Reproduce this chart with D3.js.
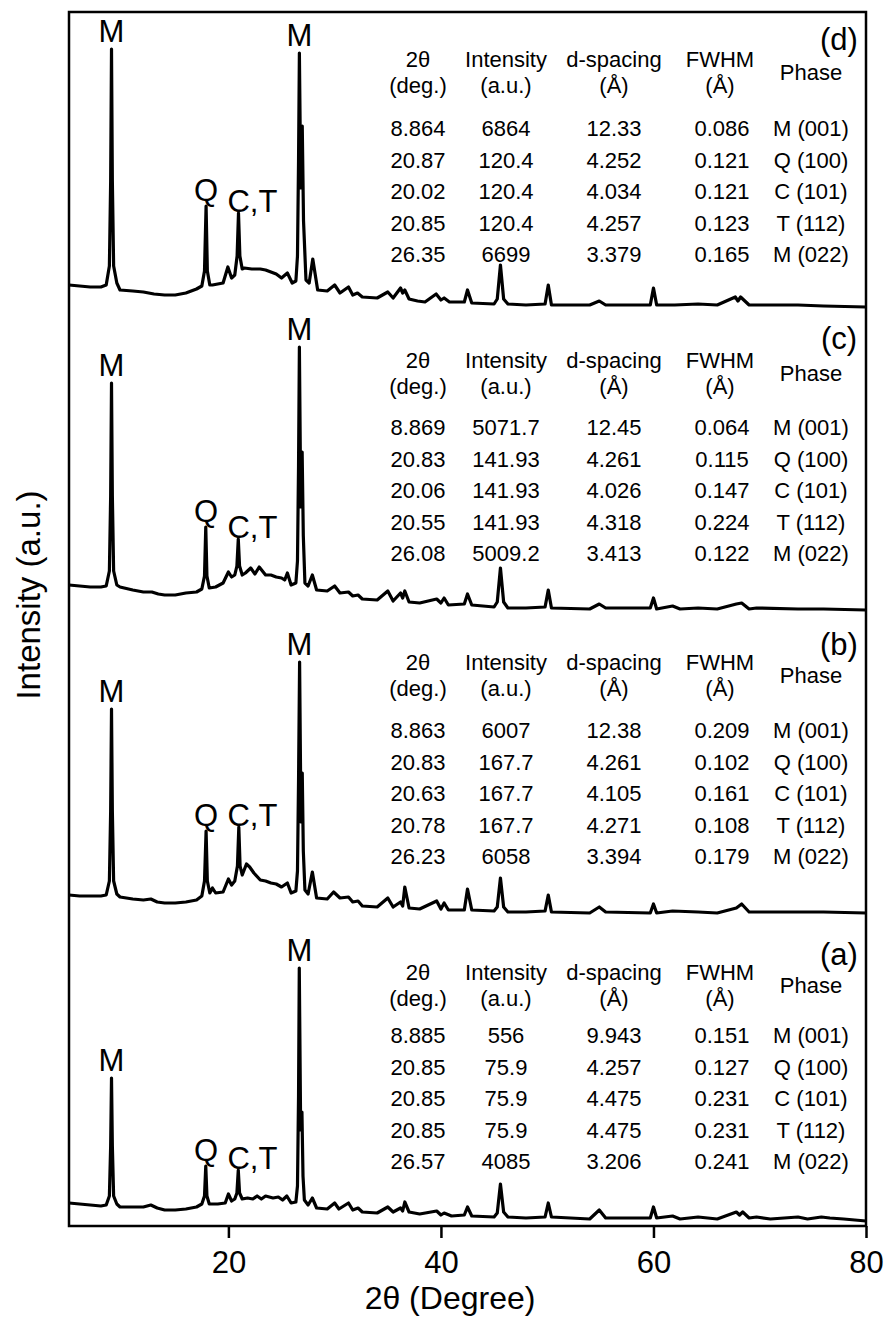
<!DOCTYPE html>
<html><head><meta charset="utf-8">
<script src="https://cdn.jsdelivr.net/npm/d3@7"></script>
<style>
body{margin:0;background:#fff}
svg{display:block}
text{font-family:"Liberation Sans",Arial,Helvetica,sans-serif;fill:#000}
</style>
</head><body>
<svg id="chart" width="885" height="1323"></svg>
<script>
// ---------------- data ----------------
const xTicks = [20, 40, 60, 80];
const panelNames = ["(a)", "(b)", "(c)", "(d)"];
const panelOffsets = [0, 305, 610, 915];   // vertical stacking offsets (a.u.)

// XRD patterns [2θ, intensity (a.u.)]
const patternA = [[5,23],[6,22],[7,21],[8,20],[8.5,21],[8.8,30],[8.92,80],[9.0,148],[9.08,80],[9.2,30],[9.5,22],[9.8,19],[11,19],[12,19],[12.7,21],[13.3,18],[14,16],[15,16],[16,17],[17,19],[17.5,22],[17.75,30],[17.87,60],[17.98,30],[18.2,22],[19,22],[19.7,23],[20.0,32],[20.3,25],[20.6,27],[20.8,33],[20.93,56],[21.05,33],[21.3,27],[21.8,28],[22.3,27],[22.7,30],[23.1,27],[23.5,30],[24.2,28],[24.7,29],[25.1,26],[25.5,30],[25.9,23],[26.35,24],[26.5,40],[26.6,130],[26.67,258],[26.8,96],[26.92,114],[27.02,50],[27.15,26],[27.5,21],[27.9,28],[28.3,18],[29.3,17],[30.0,23],[30.4,17],[31.3,23],[31.7,16],[32.2,18],[32.6,14],[34.0,13],[35.0,19],[35.5,14],[36.2,18],[36.4,15],[36.6,24],[37.0,14],[38.0,12],[39.6,15],[40.0,11],[40.3,13],[41.0,10],[42.2,11],[42.5,19],[42.9,10],[45.0,9],[45.3,13],[45.6,42],[45.9,14],[46.3,9],[48,8],[49.8,9],[50.1,23],[50.4,9],[54,7],[54.9,16],[55.5,8],[59.7,8],[60,19],[60.3,8],[61.8,10],[62.5,7],[64.2,9],[66,7],[67.8,14],[68.1,11],[68.4,14],[69,8],[69.7,9],[71,7],[73.6,9],[74.5,7],[75.8,9],[76.6,8],[77.9,7],[80,5]];
const patternB = [[5,26],[6,25],[7,25],[8,25],[8.5,26],[8.8,40],[8.92,110],[9.0,212],[9.08,110],[9.2,40],[9.5,27],[9.8,24],[11,22],[12,21],[12.7,22],[13.3,19],[14,18],[15,18],[16,19],[17,21],[17.5,25],[17.75,40],[17.9,90],[18.02,40],[18.25,28],[18.5,33],[18.8,28],[19.5,29],[20.0,42],[20.3,36],[20.6,40],[20.85,55],[20.98,94],[21.1,55],[21.3,46],[21.7,57],[22.0,54],[22.4,48],[23.0,41],[23.5,40],[24.0,38],[24.5,37],[25.0,34],[25.55,38],[25.9,28],[26.35,30],[26.5,50],[26.6,140],[26.7,259],[26.83,99],[26.95,148],[27.05,70],[27.2,31],[27.5,27],[27.9,49],[28.3,23],[29.3,22],[29.9,29],[30.5,23],[31.3,24],[31.7,19],[32.2,20],[32.6,15],[34.0,14],[35.0,23],[35.5,14],[36.2,19],[36.4,15],[36.6,34],[37.0,13],[38.0,12],[39.6,20],[40.0,12],[40.3,18],[40.7,11],[42.2,11],[42.5,32],[42.9,11],[45.0,10],[45.3,14],[45.6,43],[45.9,14],[46.3,9],[48,9],[49.8,10],[50.1,26],[50.4,9],[54,8],[54.9,14],[55.5,9],[59.7,8],[60,17],[60.3,8],[61.8,10],[64.2,9],[66,8],[67.8,13],[68.3,17],[69,9],[69.7,9],[73.6,9],[76,9],[80,8]];
const patternC = [[5,31],[6,30],[7,29],[8,29],[8.5,30],[8.8,45],[8.92,120],[9.0,233],[9.08,120],[9.2,45],[9.5,31],[9.8,29],[11,26],[12,24],[12.8,24],[13.4,22],[14,21],[15,21],[16,23],[17,24],[17.5,27],[17.75,40],[17.87,89],[17.98,40],[18.2,28],[18.8,29],[19.5,33],[20.0,44],[20.3,39],[20.6,41],[20.8,50],[20.93,77],[21.05,50],[21.3,41],[21.6,43],[22.1,48],[22.5,42],[22.9,49],[23.5,41],[24.0,41],[24.5,39],[25.0,38],[25.3,36],[25.55,43],[25.9,31],[26.35,33],[26.5,55],[26.6,150],[26.68,269],[26.81,109],[26.94,164],[27.05,80],[27.2,33],[27.5,30],[27.9,41],[28.3,26],[29.3,25],[30.0,30],[30.5,23],[31.3,24],[31.7,20],[32.2,21],[32.6,17],[34.0,16],[35.0,25],[35.5,15],[36.2,23],[36.4,18],[36.6,25],[37.0,14],[38.0,13],[39.6,17],[40.0,13],[40.3,18],[40.7,11],[42.2,12],[42.5,22],[42.9,11],[45.0,9],[45.3,14],[45.6,48],[45.9,14],[46.3,8],[48,8],[49.8,9],[50.1,26],[50.4,8],[54,7],[54.9,12],[55.5,8],[59.7,8],[60,18],[60.3,7],[61.8,10],[62.5,7],[64.2,8],[66,7],[67.8,12],[68.3,13],[69,7],[69.7,8],[73.6,7],[76,7],[80,6]];
const patternD = [[5,26],[6,25],[7,24],[8,24],[8.5,26],[8.8,45],[8.92,130],[9.0,262],[9.08,130],[9.2,45],[9.5,28],[9.8,21],[11,20],[12,19],[13,17],[14,16],[15,16],[16,18],[17,22],[17.5,25],[17.75,40],[17.9,105],[18.02,40],[18.25,26],[18.5,26],[19.5,28],[19.95,44],[20.3,33],[20.6,36],[20.82,55],[20.95,98],[21.08,55],[21.3,42],[21.5,43],[22.2,42],[23.0,42],[23.5,41],[24.0,39],[24.5,37],[25.0,33],[25.55,38],[26.0,28],[26.35,30],[26.5,55],[26.6,150],[26.68,258],[26.81,123],[26.95,185],[27.07,90],[27.3,31],[27.6,28],[27.94,52],[28.4,21],[29.3,20],[30.0,26],[30.5,18],[31.3,24],[31.7,16],[32.15,18],[32.6,14],[34.0,13],[35.0,19],[35.5,13],[36.2,23],[36.4,18],[36.6,21],[37.0,12],[37.8,10],[38.5,9],[39.55,17],[40.0,11],[40.3,13],[40.8,9],[42.2,9],[42.5,21],[42.9,8],[45.0,7],[45.3,12],[45.6,46],[45.9,12],[46.3,7],[48,6],[49.8,7],[50.1,26],[50.4,6],[54,6],[54.9,10],[55.5,6],[59.7,6],[60.0,23],[60.3,6],[62,6],[64.2,7],[66,6],[67.7,14],[67.95,10],[68.2,14],[69,6],[69.7,6],[73.6,6],[76,5],[80,4]];
const patterns = [patternA, patternB, patternC, patternD];

// peak annotations
const labelTexts  = ["M", "Q", "C,T", "M"];
const labelThetas = [9.0, 17.9, 20.95, 26.68];

// tables
const headerLine1 = ["2θ", "Intensity", "d-spacing", "FWHM", "Phase"];
const headerLine2 = ["(deg.)", "(a.u.)", "(Å)", "(Å)", ""];
const phases = ["M (001)", "Q (100)", "C (101)", "T (112)", "M (022)"];
const twoThetaA = ["8.885","20.85","20.85","20.85","26.57"];
const intensityA = ["556","75.9","75.9","75.9","4085"];
const dSpacingA = ["9.943","4.257","4.475","4.475","3.206"];
const fwhmA = ["0.151","0.127","0.231","0.231","0.241"];
const twoThetaB = ["8.863","20.83","20.63","20.78","26.23"];
const intensityB = ["6007","167.7","167.7","167.7","6058"];
const dSpacingB = ["12.38","4.261","4.105","4.271","3.394"];
const fwhmB = ["0.209","0.102","0.161","0.108","0.179"];
const twoThetaC = ["8.869","20.83","20.06","20.55","26.08"];
const intensityC = ["5071.7","141.93","141.93","141.93","5009.2"];
const dSpacingC = ["12.45","4.261","4.026","4.318","3.413"];
const fwhmC = ["0.064","0.115","0.147","0.224","0.122"];
const twoThetaD = ["8.864","20.87","20.02","20.85","26.35"];
const intensityD = ["6864","120.4","120.4","120.4","6699"];
const dSpacingD = ["12.33","4.252","4.034","4.257","3.379"];
const fwhmD = ["0.086","0.121","0.121","0.123","0.165"];
const tables = [
  [twoThetaA, intensityA, dSpacingA, fwhmA, phases],
  [twoThetaB, intensityB, dSpacingB, fwhmB, phases],
  [twoThetaC, intensityC, dSpacingC, fwhmC, phases],
  [twoThetaD, intensityD, dSpacingD, fwhmD, phases]
];

// ---------------- layout ----------------
const plot = {left: 69, right: 866, top: 12, bottom: 1226};
const tableHeaderY = [972, 662, 360, 59];
const tableRowY = [1035, 730, 427, 128];
const rowStep = 31.6;
const panelLabelY = [955, 645, 339, 40];
const colX = [418, 506, 614, 720, 811];

const svg = d3.select("#chart");
const x = d3.scaleLinear().domain([5, 80]).range([plot.left, plot.right]);
const y = d3.scaleLinear().domain([0, plot.bottom - plot.top]).range([plot.bottom, plot.top]);

// traces
const line = d3.line().x(d => x(d[0])).y(d => y(d[1]));
patterns.forEach((p, i) => {
  const off = panelOffsets[i];
  svg.append("path")
    .datum(p.map(d => [d[0], d[1] + off]))
    .attr("fill", "none")
    .attr("stroke", "#000")
    .attr("stroke-width", 3.2)
    .attr("stroke-linejoin", "round")
    .attr("d", line);
});

// peak labels
const gaps = [18, 16, 12, 18];
patterns.forEach((p, i) => {
  const off = panelOffsets[i];
  labelThetas.forEach((t, j) => {
    const near = p.filter(d => Math.abs(d[0] - t) < 0.2);
    const top = d3.max(near, d => d[1]) + off;
    const cy = y(top) - gaps[j];
    const txt = svg.append("text")
      .attr("y", cy + 11)
      .attr("font-size", 31)
      .text(labelTexts[j]);
    if (labelTexts[j] === "C,T") txt.attr("x", x(t) - 11).attr("text-anchor", "start");
    else txt.attr("x", x(t)).attr("text-anchor", "middle");
  });
});

// tables
tables.forEach((tb, i) => {
  const g = svg.append("g").attr("font-size", 22).attr("text-anchor", "middle");
  headerLine1.forEach((h, c) => {
    const isPhase = c === 4;
    g.append("text").attr("x", colX[c]).attr("y", (isPhase ? tableHeaderY[i] + 13 : tableHeaderY[i]) + 8).text(h);
    if (headerLine2[c]) g.append("text").attr("x", colX[c]).attr("y", tableHeaderY[i] + 26 + 8).text(headerLine2[c]);
  });
  tb.forEach((col, c) => {
    col.forEach((v, r) => {
      g.append("text").attr("x", colX[c] + (c === 3 ? 2 : 0)).attr("y", tableRowY[i] + r * rowStep + 8).text(v);
    });
  });
  svg.append("text").attr("x", 839).attr("y", panelLabelY[i] + 10)
    .attr("font-size", 31).attr("text-anchor", "middle").text(panelNames[i]);
});

// frame
svg.append("rect")
  .attr("x", plot.left).attr("y", plot.top)
  .attr("width", plot.right - plot.left).attr("height", plot.bottom - plot.top)
  .attr("fill", "none").attr("stroke", "#000").attr("stroke-width", 2.5);

// x axis
const xAxis = d3.axisBottom(x).tickValues(xTicks).tickSize(12).tickPadding(13).tickFormat(d3.format("d"));
const ax = svg.append("g").attr("transform", `translate(0,${plot.bottom})`).call(xAxis);
ax.select(".domain").remove();
ax.selectAll("line").attr("stroke", "#000").attr("stroke-width", 2.5);
ax.selectAll("text").attr("font-size", 31).attr("font-family", '"Liberation Sans",Arial,sans-serif').attr("fill", "#000");

// axis titles
svg.append("text").attr("x", 450).attr("y", 1309).attr("text-anchor", "middle")
  .attr("font-size", 32).text("2θ (Degree)");
svg.append("text").attr("transform", "translate(40,595) rotate(-90)").attr("text-anchor", "middle")
  .attr("font-size", 33).text("Intensity (a.u.)");
</script>
</body></html>
